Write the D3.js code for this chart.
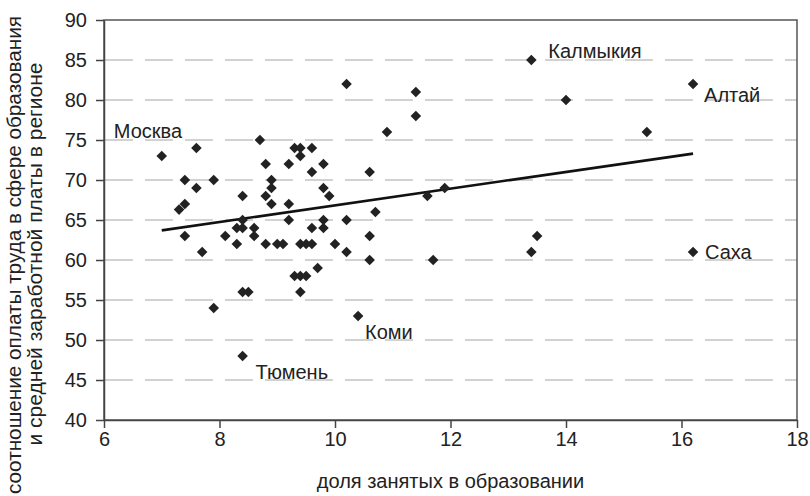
<!DOCTYPE html>
<html><head><meta charset="utf-8">
<script src="https://cdn.jsdelivr.net/npm/d3@7"></script>
<style>
body{margin:0;background:#fff}
text{font-family:"Liberation Sans",Arial,sans-serif;fill:#222}
</style>
</head><body><svg id="c" width="810" height="496"></svg>
<script>
// ---- data ----
const shareEmployed = [7.0,7.6,7.4,7.9,7.6,7.3,7.4,7.4,7.7,8.1,8.3,8.4,8.6,8.3,8.4,8.4,8.6,8.7,8.8,8.8,
  8.9,8.9,8.9,8.8,9.0,9.1,9.2,9.2,9.2,9.3,9.4,9.4,9.6,9.6,9.8,9.8,9.9,9.8,9.6,9.8,
  9.4,9.5,9.6,10.0,10.2,10.2,9.7,9.3,9.4,9.5,8.4,8.5,9.4,7.9,10.4,8.4,10.2,11.4,11.4,10.9,
  10.6,10.7,10.6,10.6,11.6,11.9,11.7,13.4,14.0,16.2,15.4,13.5,13.4,16.2];
const payRatio = [73,74,70,70,69,66.3,67,63,61,63,64,64,64,62,65,68,63,75,72,68,
  70,69,67,62,62,62,72,67,65,74,74,73,74,71,72,69,68,65,64,64,
  62,62,62,62,65,61,59,58,58,58,56,56,56,54,53,48,82,81,78,76,
  71,66,63,60,68,69,60,85,80,82,76,63,61,61];
const labelNames = ["Москва","Калмыкия","Алтай","Саха","Коми","Тюмень"];
const labelX = [7.0,13.4,16.2,16.2,10.4,8.4];
const labelY = [73,85,82,61,53,48];
const trendX = [7.0,16.2];
const trendY = [63.7,73.3];
const xTicks = [6,8,10,12,14,16,18];
const yTicks = [40,45,50,55,60,65,70,75,80,85,90];
const xTitle = "доля занятых в образовании";
const yTitle1 = "соотношение оплаты труда в сфере образования";
const yTitle2 = "и средней заработной платы в регионе";

// ---- layout ----
const L = {left:104,right:797,top:20,bottom:420,font:20};
const labelOffsets = [[-48,-18],[17,-2],[11,18],[12,7],[7,23],[13,23]];

const svg = d3.select("#c");
const x = d3.scaleLinear().domain([6,18]).range([L.left,L.right]);
const y = d3.scaleLinear().domain([40,90]).range([L.bottom,L.top]);

// grid
svg.append("g").selectAll("line").data(yTicks.filter(v=>v>40&&v<90)).join("line")
  .attr("x1",L.left+1).attr("x2",L.right).attr("y1",d=>y(d)).attr("y2",d=>y(d))
  .attr("stroke","#c4c4c4").attr("stroke-width",1.5).attr("stroke-dasharray","28,12");

// frame
svg.append("rect").attr("x",L.left).attr("y",L.top).attr("width",L.right-L.left).attr("height",L.bottom-L.top)
  .attr("fill","none").attr("stroke","#555").attr("stroke-width",1.5);

// axes
const gx = svg.append("g").attr("transform",`translate(0,${L.bottom})`)
  .call(d3.axisBottom(x).tickValues(xTicks).tickSize(8).tickPadding(4).tickSizeOuter(0));
const gy = svg.append("g").attr("transform",`translate(${L.left},0)`)
  .call(d3.axisLeft(y).tickValues(yTicks).tickSize(8).tickPadding(9).tickSizeOuter(0));
[gx,gy].forEach(g=>{
  g.select(".domain").attr("stroke","#444").attr("stroke-width",1.5);
  g.selectAll(".tick line").attr("stroke","#444").attr("stroke-width",1.5);
  g.selectAll(".tick text").attr("font-size",L.font).attr("fill","#222")
   .attr("font-family","Liberation Sans, Arial, sans-serif");
});

// trend line
svg.append("path").datum(trendX.map((v,i)=>[v,trendY[i]]))
  .attr("d",d3.line().x(d=>x(d[0])).y(d=>y(d[1])))
  .attr("stroke","#111").attr("stroke-width",2.6).attr("fill","none");

// points
const diamond = d3.symbol().type(d3.symbolSquare).size(56);
svg.append("g").selectAll("path").data(shareEmployed.map((v,i)=>[v,payRatio[i]])).join("path")
  .attr("d",diamond())
  .attr("transform",d=>`translate(${x(d[0])},${y(d[1])}) rotate(45)`)
  .attr("fill","#222");

// labels
svg.append("g").selectAll("text").data(labelNames).join("text")
  .attr("x",(d,i)=>x(labelX[i])+labelOffsets[i][0])
  .attr("y",(d,i)=>y(labelY[i])+labelOffsets[i][1])
  .attr("font-size",L.font).text(d=>d);

// titles
svg.append("text").attr("x",(L.left+L.right)/2).attr("y",488).attr("text-anchor","middle")
  .attr("font-size",L.font).text(xTitle);
svg.append("text").attr("transform","translate(21,255) rotate(-90)").attr("text-anchor","middle")
  .attr("font-size",L.font).attr("textLength",478).attr("lengthAdjust","spacingAndGlyphs").text(yTitle1);
svg.append("text").attr("transform","translate(42,254) rotate(-90)").attr("text-anchor","middle")
  .attr("font-size",L.font).attr("textLength",383).attr("lengthAdjust","spacingAndGlyphs").text(yTitle2);
</script>
</body></html>
